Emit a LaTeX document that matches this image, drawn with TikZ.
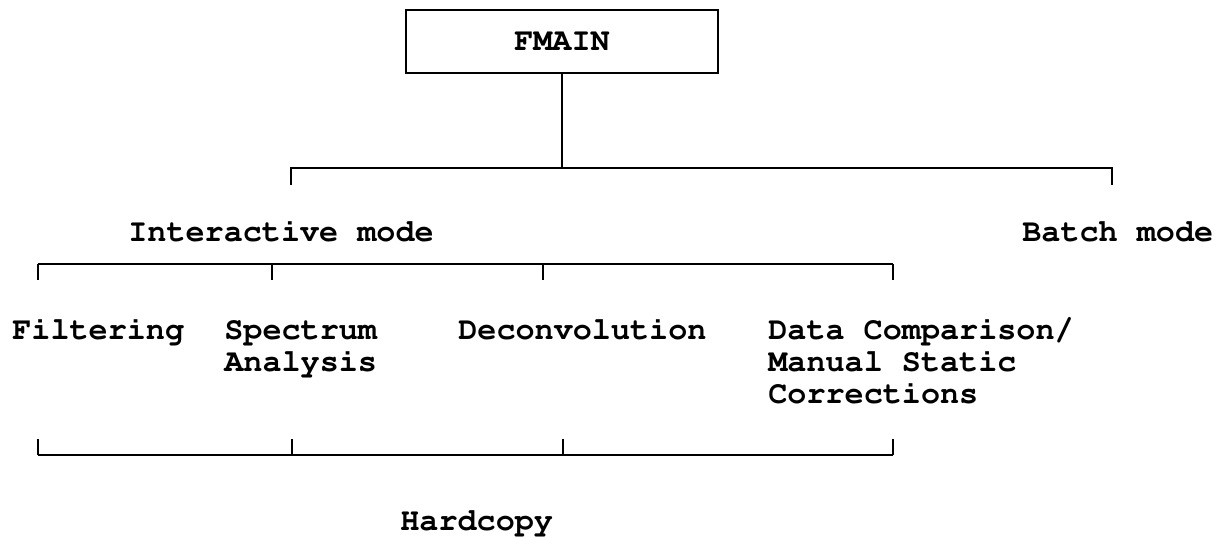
\documentclass[tikz,border=0pt]{standalone}
\usepackage[T1]{fontenc}
\usepackage{courier}

\begin{document}
\begin{tikzpicture}[x=0.2mm, y=-0.2mm,
    menu/.style={font=\ttfamily\bfseries\fontsize{18.1}{18.2}\selectfont,
      inner sep=0pt, align=left, anchor=base west},
    rule/.style={line width=1.1pt}]
  \useasboundingbox (0,0) rectangle (1222,537);

  % top program box
  \node[draw, rule, minimum width=62.4mm, minimum height=12.6mm, inner sep=0pt,
    font=\ttfamily\bfseries\fontsize{18.1}{18.2}\selectfont] (fmain) at (562,41.5) {FMAIN};

  % split into the two modes
  \coordinate (modeL) at (291,168);
  \coordinate (modeR) at (1112,168);
  \draw[rule] (fmain.south) -- (fmain.south |- modeL);
  \draw[rule] (modeL) ++(0,17) -- (modeL) -- (modeR) -- ++(0,17);
  \node[menu] (inter) at (128,241) {Interactive mode};
  \node[menu] (batch) at (1022,241) {Batch mode};

  % interactive options (multi-line ones sit on their last line)
  \foreach \x [count=\i] in {38,272,543,893}
    \coordinate (opt\i) at (\x,264);
  \draw[rule] (opt1) -- (opt4);
  \foreach \i in {1,...,4}
    \draw[rule] (opt\i) -- ++(0,16);
  \node[menu] (filt) at (12,339) {Filtering};
  \node[menu] (spec) at (224,371) {Spectrum\\Analysis};
  \node[menu] (decon) at (458,339) {Deconvolution};
  \node[menu] (comp) at (768,403) {Data Comparison/\\Manual Static\\Corrections};

  % hardcopy from every option
  \foreach \x [count=\i] in {38,292,563,893}
    \coordinate (hc\i) at (\x,455);
  \draw[rule] (hc1) -- (hc4);
  \foreach \i in {1,...,4}
    \draw[rule] (hc\i) -- ++(0,-16);
  \node[menu] (hard) at (400,530) {Hardcopy};
\end{tikzpicture}
\end{document}
